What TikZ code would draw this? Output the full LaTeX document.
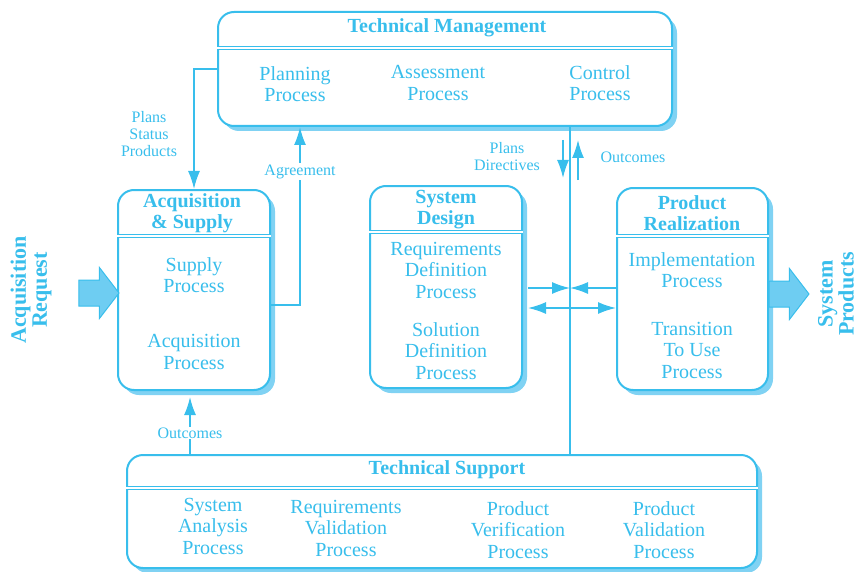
\documentclass[tikz,border=0pt]{standalone}
\usepackage{fontspec}
\setmainfont{Liberation Serif}
\usetikzlibrary{calc,shadows,shapes.arrows,arrows.meta}
\definecolor{mainblue}{RGB}{56,190,236}
\definecolor{shadeblue}{RGB}{128,210,243}
\definecolor{fillblue}{RGB}{110,205,242}

\begin{document}
\begin{tikzpicture}[x=1pt,y=-1pt]
    % framed groups of processes
    \tikzstyle{grp}=[draw=mainblue, line width=2pt, rounded corners=16pt, fill=white, drop shadow={shadow xshift=5pt, shadow yshift=-5pt, fill=shadeblue, opacity=1}, inner sep=0]
    % headings and process names
    \tikzstyle{head}=[text=mainblue, font=\bfseries\fontsize{20}{21}\selectfont, align=center, inner sep=0]
    \tikzstyle{proc}=[text=mainblue, font=\fontsize{20}{21.5}\selectfont, align=center, inner sep=0]
    \tikzstyle{lbl}=[text=mainblue, font=\fontsize{16}{17}\selectfont, align=center, inner sep=1]
    \tikzstyle{rule}=[draw=mainblue, line width=.8pt, double, double distance=1.6pt]
    \tikzstyle{conn}=[draw=mainblue, line width=1.6pt, -{Latex[length=18pt,width=12pt]}]
    \tikzstyle{wire}=[draw=mainblue, line width=1.4pt]
    % in and out arrows
    \tikzstyle{big}=[single arrow, draw=mainblue, fill=fillblue, line width=1pt, single arrow tip angle=105, single arrow head extend=12.5pt, inner xsep=0, inner ysep=12.5pt, minimum height=40pt]
    \tikzstyle{side}=[text=mainblue, font=\bfseries\fontsize{22}{21}\selectfont, align=center, rotate=90]

    \useasboundingbox (0,0) rectangle (861,572);

    % boxes
    \node[grp, minimum width=454pt, minimum height=114pt] (tm) at (445,69) {};
    \node[grp, minimum width=152pt, minimum height=200pt] (acq) at (194,290) {};
    \node[grp, minimum width=152pt, minimum height=202pt] (sd) at (446,287) {};
    \node[grp, minimum width=151pt, minimum height=202pt] (pr) at (692.5,289) {};
    \node[grp, minimum width=630pt, minimum height=113pt] (ts) at (442,511.5) {};

    \draw[rule] (tm.west |- 0,48) -- (tm.east |- 0,48);
    \draw[rule] (acq.west |- 0,236) -- (acq.east |- 0,236);
    \draw[rule] (sd.west |- 0,232) -- (sd.east |- 0,232);
    \draw[rule] (pr.west |- 0,236) -- (pr.east |- 0,236);
    \draw[rule] (ts.west |- 0,488) -- (ts.east |- 0,488);

    \node[head] (tmT) at (447,28) {Technical Management};
    \node[head] (acqT) at (192,213) {Acquisition\\\& Supply};
    \node[head] (sdT) at (446,210) {System\\Design};
    \node[head] (prT) at (692,213) {Product\\Realization};
    \node[head] (tsT) at (447,470) {Technical Support};

    \node[proc] (plan) at (295,84) {Planning\\Process};
    \node[proc] (assess) at (438,83) {Assessment\\Process};
    \node[proc] (ctrl) at (600,83) {Control\\Process};
    \node[proc] (supply) at (194,275) {Supply\\Process};
    \node[proc] (acqp) at (194,352) {Acquisition\\Process};
    \node[proc] (reqdef) at (446,270) {Requirements\\Definition\\Process};
    \node[proc] (soldef) at (446,351) {Solution\\Definition\\Process};
    \node[proc] (impl) at (692,270) {Implementation\\Process};
    \node[proc] (trans) at (692,350) {Transition\\To Use\\Process};
    \node[proc] (sysan) at (213,526) {System\\Analysis\\Process};
    \node[proc] (reqval) at (346,528) {Requirements\\Validation\\Process};
    \node[proc] (prodver) at (518,530) {Product\\Verification\\Process};
    \node[proc] (prodval) at (664,530) {Product\\Validation\\Process};

    % connectors
    \draw[conn] (tm.west) -| (acq.north);
    \node[lbl] (pspL) at (149,134) {Plans\\Status\\Products};
    \coordinate (agr) at (300,305);
    \draw[conn] (acq.east |- agr) -- (agr) -- node[lbl, fill=white, pos=.75] (agrL) {Agreement} (tm.south -| agr);

    \coordinate (hub) at (570,298);
    \draw[wire] (tm.south -| hub) -- (ts.north -| hub);
    \coordinate (pdTop) at (563,140);
    \coordinate (pdEnd) at (563,178);
    \coordinate (ocTop) at (578,140);
    \coordinate (ocEnd) at (578,180);
    \draw[conn] (pdTop) -- (pdEnd);
    \draw[conn] (ocEnd) -- (ocTop);
    \node[lbl] (pdL) at (507,157) {Plans\\Directives};
    \node[lbl] (ocL) at (633,157) {Outcomes};

    \coordinate (h1) at (528,288);
    \coordinate (h2) at (528,308);
    \draw[conn] (h1) -- (hub |- h1);
    \draw[conn] (pr.west |- h1) -- (hub |- h1);
    \draw[conn, {Latex[length=18pt,width=12pt]}-{Latex[length=18pt,width=12pt]}] (h2) -- (pr.west |- h2);

    \coordinate (oc2) at (190,455);
    \coordinate (ocTip) at (190,397);
    \draw[conn] (oc2) -- node[lbl, fill=white, pos=.38] (oc2L) {Outcomes} (ocTip);

    % request and products
    \node[big] (reqA) at (94,293) {};
    \node[big] (prodA) at (784,294) {};
    \node[side] (reqT) at (31,290) {Acquisition\\Request};
    \node[side] (prodT) at (836,294) {System\\Products};
\end{tikzpicture}
\end{document}
